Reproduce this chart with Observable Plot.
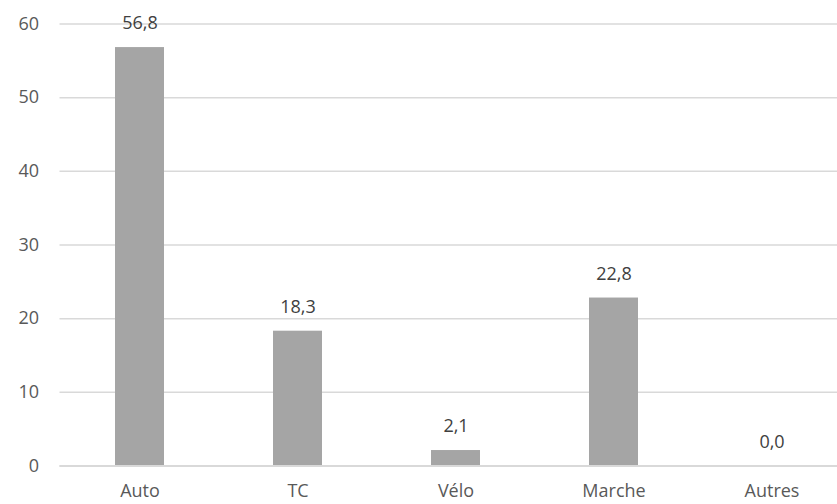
<!DOCTYPE html>
<html>
<head>
<meta charset="utf-8">
<script src="https://cdn.jsdelivr.net/npm/d3@7"></script>
<script src="https://cdn.jsdelivr.net/npm/@observablehq/plot@0.6"></script>
<style>
  html, body { margin: 0; padding: 0; background: #fff; overflow: hidden; }
  #chart { width: 837px; height: 504px; overflow: hidden; }
</style>
</head>
<body>
<div id="chart"></div>
<script>
const categories = ["Auto", "TC", "Vélo", "Marche", "Autres"];
const values = [56.8, 18.3, 2.1, 22.8, 0.0];
const yTicks = [0, 10, 20, 30, 40, 50, 60];

const data = categories.map((c, i) => ({ mode: c, value: values[i] }));
const fmt = v => v.toFixed(1).replace(".", ",");

const chart = Plot.plot({
  width: 837,
  height: 504,
  marginLeft: 59.5,
  marginRight: -15,
  marginTop: 23.5,
  marginBottom: 38.5,
  style: { fontFamily: "'Open Sans', sans-serif", fontSize: "18px", color: "#595959", background: "#fff", overflow: "hidden" },
  x: { domain: categories, paddingInner: 0.69, paddingOuter: 0.345, label: null },
  y: { domain: [0, 60], label: null },
  marks: [
    Plot.gridY(yTicks, { stroke: "#d9d9d9", strokeOpacity: 1, strokeWidth: 1.5 }),
    Plot.axisY(yTicks, { tickSize: 0, tickPadding: 21, label: null, fill: "#595959", fontSize: 18 }),
    Plot.axisX({ tickSize: 0, tickPadding: 18, label: null, fill: "#595959", fontSize: 18 }),
    Plot.barY(data, { x: "mode", y: "value", fill: "#a5a5a5" }),
    Plot.ruleY([0], { stroke: "#d9d9d9", strokeWidth: 2 }),
    Plot.text(data, { x: "mode", y: "value", text: d => fmt(d.value), dy: -24, lineAnchor: "middle", fill: "#404040", fontSize: 18 })
  ]
});
document.getElementById("chart").appendChild(chart);
</script>
</body>
</html>
